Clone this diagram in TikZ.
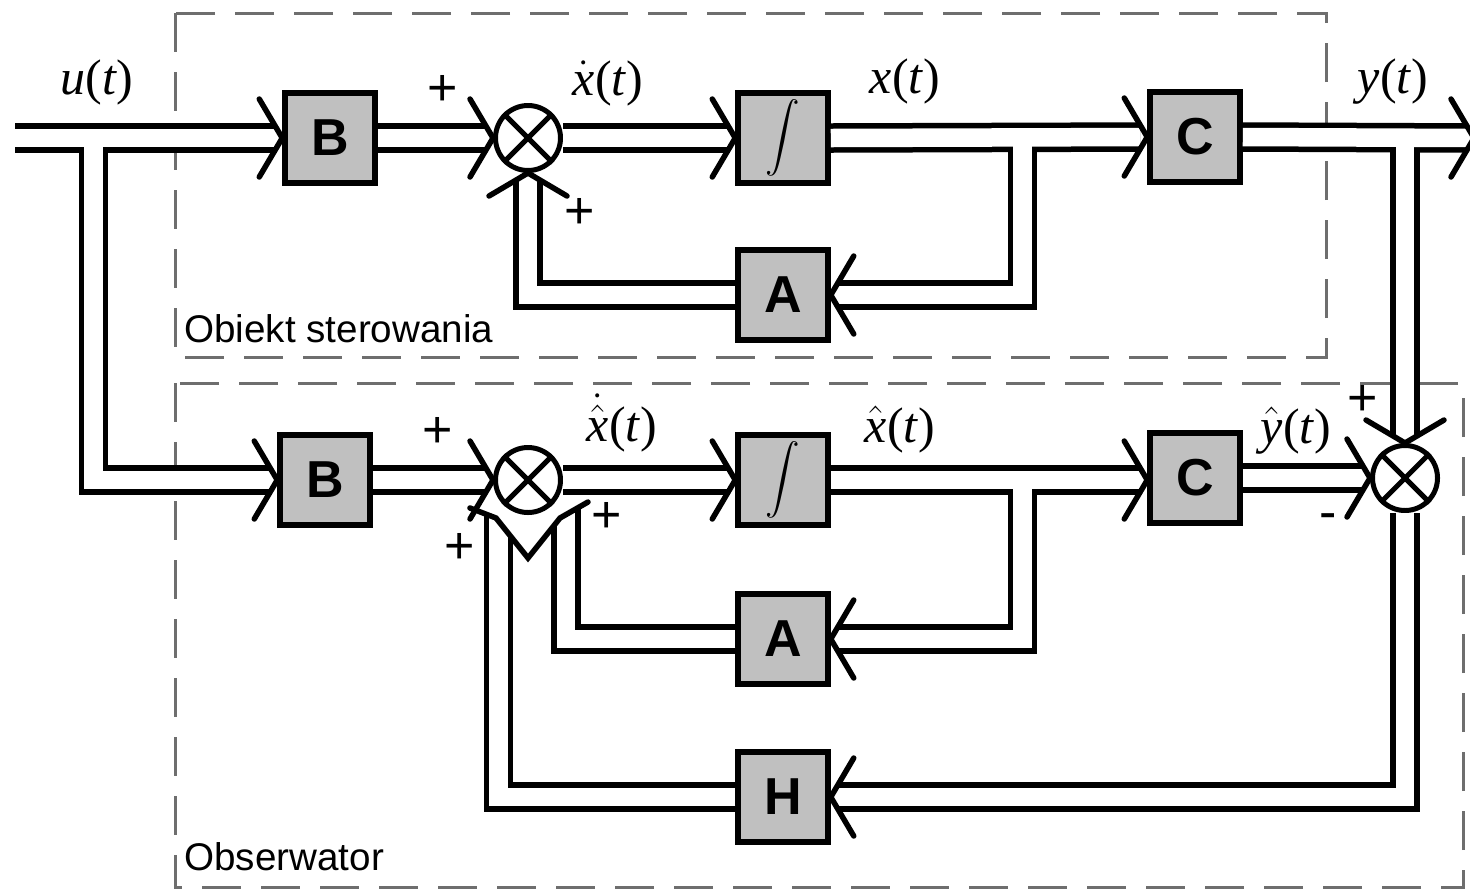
\documentclass[tikz,border=0pt]{standalone}
\usepackage{fontspec}
\usepackage{exscale}
\setmainfont{Liberation Serif}
\newfontfamily\arialf{Liberation Sans}
\usetikzlibrary{calc}
\definecolor{boxgray}{HTML}{C0C0C0}
\definecolor{dashgray}{HTML}{6E6E6E}
\newcommand\vi[1]{\mbox{\textit{#1}}}
\tikzset{
  blk/.style={draw=black, line width=2.75pt, fill=boxgray, minimum width=45pt, minimum height=45pt, inner sep=0pt, font=\arialf\bfseries\fontsize{26}{26}\selectfont},
  intg/.style={font=\fontsize{16}{16}\selectfont},
  sumc/.style={circle, draw=black, line width=2.5pt, minimum size=32.5pt, inner sep=0pt},
  xline/.style={line width=2.5pt},
  dbox/.style={draw=dashgray, line width=1.5pt, dash pattern=on 19.5pt off 10pt},
  lab/.style={inner sep=0pt, anchor=base, font=\fontsize{25}{25}\selectfont},
  pm/.style={inner sep=0pt, font=\arialf\fontsize{26}{26}\selectfont},
  boxlab/.style={inner sep=0pt, anchor=base west, font=\arialf\fontsize{19.3}{20}\selectfont},
  arr/.style={shorten >=3.54pt},
  chevline/.style={line width=2.75pt, line join=miter, line cap=round},
  chev/.pic={\draw[chevline] (-23,39) -- (0,0) -- (-23,-39);},
  conn/.style={line width=14.75pt, black, line join=miter}
}
\newcommand\allconns{%
  \draw[conn,arr] (uin) -- (B1.west);
  \draw[conn,arr] (uj) |- (B2.west);
  \draw[conn,arr] (B1.east) -- (S1.west);
  \draw[conn,arr] (S1.east) -- (I1.west);
  \draw[conn,arr] (I1.east) -- (C1.west);
  \draw[conn,arr] (xj) |- (A1.east);
  \draw[conn,arr] (A1.west) -| (S1.south);
  \draw[conn,arr] (C1.east) -- (yout);
  \draw[conn,arr] (yj) -- (S3.north);
  \draw[conn,arr] (B2.east) -- (S2.west);
  \draw[conn,arr] (S2.east) -- (I2.west);
  \draw[conn,arr] (I2.east) -- (I2.east -| C2.west);
  \draw[conn,arr] (xhj) |- (A2.east);
  \draw[conn] (A2.west) -| (aS);
  \draw[conn,arr] (C2.east) -- (S3.west);
  \draw[conn,arr] (S3.south) |- (H.east);
  \draw[conn] (H.west) -| (hS);
}
\begin{document}
\begin{tikzpicture}[x=0.5pt,y=-0.5pt]
\useasboundingbox (0,0) rectangle (1470,890);
% dashed frames
\draw[dbox] (175,13) rectangle (1326,357);
\draw[dbox] (175,383) rectangle (1463,887);
\node[boxlab] (lobj) at (184,342) {Obiekt sterowania};
\node[boxlab] (lobs) at (184,870) {Obserwator};
% blocks
\node[blk] (B1) at (330,138) {B};
\node[sumc] (S1) at (528,138) {};
\node[blk] (I1) at (783,138) {};
\node[intg] (iI1) at (I1.center) {$\displaystyle\int$};
\node[blk] (C1) at (1195,137) {C};
\node[blk] (A1) at (783,295) {A};
\node[blk] (B2) at (325,480) {B};
\node[sumc] (S2) at (528,480) {};
\node[blk] (I2) at (783,480) {};
\node[intg] (iI2) at (I2.center) {$\displaystyle\int$};
\node[blk] (C2) at (1195,478) {C};
\node[blk] (A2) at (783,639) {A};
\node[blk] (H) at (783,797) {H};
\node[sumc] (S3) at (1405,478) {};
\foreach \s in {S1,S2,S3}{
  \draw[xline] (\s.north west) -- (\s.south east) (\s.north east) -- (\s.south west);
}
% helper coordinates
\coordinate (uin) at (15,138);
\coordinate (uj) at (93.5,138);
\coordinate (xj) at (1022.5,138);
\coordinate (yj) at (1405,138);
\coordinate (yout) at (1474,138);
\coordinate (xhj) at (1022.5,480);
\coordinate (hS) at (498.5,536);
\coordinate (aS) at (566,525.5);
\coordinate (hT) at (496,518);
\coordinate (hB) at (470,508);
\coordinate (aT) at (560,518);
\coordinate (aB) at (588,502);
\coordinate (vB) at (528,558);
% double connectors: black pass, then white pass
\allconns
\tikzset{conn/.style={line width=9.25pt, white, line join=miter}}
\allconns
% outer / inner line ends of the two slanted inputs
\draw[line width=2.75pt] ($(hS)+(-12,0)$) -- ($(hS)+(-12,-21.5)$);
\draw[line width=2.75pt] ($(aS)+(12,0)$) -- ($(aS)+(12,-17.5)$);
% hollow arrow heads
\pic at (B1.west) {chev};
\pic at (B2.west) {chev};
\pic at (S1.west) {chev};
\pic at (I1.west) {chev};
\pic at (C1.west) {chev};
\pic[rotate=180] at (A1.east) {chev};
\pic[rotate=90] at (S1.south) {chev};
\pic at (yout) {chev};
\pic[rotate=-90] at (S3.north) {chev};
\pic at (S2.west) {chev};
\pic at (I2.west) {chev};
\pic at (I2.east -| C2.west) {chev};
\pic[rotate=180] at (A2.east) {chev};
\pic at (S3.west) {chev};
\pic[rotate=180] at (H.east) {chev};
\draw[chevline] (hB) -- (hT) -- (vB) -- (aT) -- (aB);
% labels
\node[lab] (lu) at (97,94) {\vi{u}(\vi{t})};
\node[lab] (lxd) at (608,95) {$\dot{\vi{x}}$(\vi{t})};
\node[lab] (lx) at (905,93) {\vi{x}(\vi{t})};
\node[lab] (ly) at (1393,93) {\vi{y}(\vi{t})};
\node[lab] (lxhd) at (622,441) {$\dot{\hat{\vi{x}}}$(\vi{t})};
\node[lab] (lxh) at (900,442) {$\hat{\vi{x}}$(\vi{t})};
\node[lab] (lyh) at (1296,443) {$\hat{\vi{y}}$(\vi{t})};
\node[pm] (p1) at (443,90) {+};
\node[pm] (p2) at (580,213) {+};
\node[pm] (p3) at (438,432) {+};
\node[pm] (p4) at (607,517) {+};
\node[pm] (p5) at (460,548) {+};
\node[pm] (p6) at (1363,400) {+};
\node[pm] (m1) at (1328,522) {-};
\end{tikzpicture}
\end{document}
